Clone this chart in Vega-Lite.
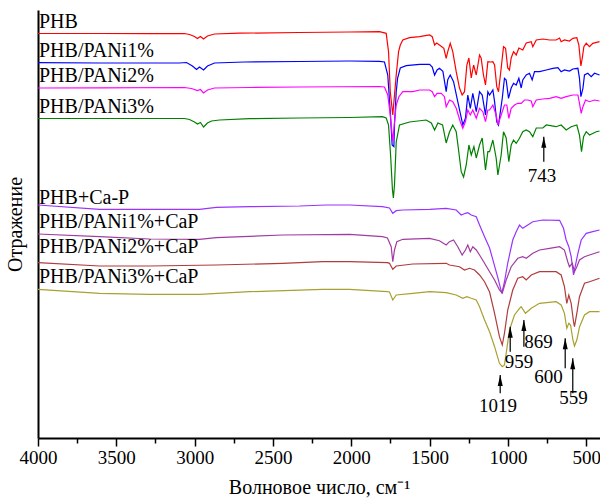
{
  "$schema": "https://vega.github.io/schema/vega-lite/v6.json",
  "width": 562,
  "height": 428,
  "autosize": {"type": "none"},
  "padding": {"left": 38, "top": 10, "right": 0, "bottom": 64},
  "background": "white",
  "config": {"view": {"stroke": null}, "font": "Liberation Serif"},
  "datasets": {
    "spectra": [
      {"s":"PHB","x":4000,"y":404.5},{"s":"PHB","x":3607,"y":404.5},{"s":"PHB","x":3288,"y":404.3},{"s":"PHB","x":3065,"y":404.5},{"s":"PHB","x":3033,"y":403.5},{"s":"PHB","x":3001,"y":401.5},{"s":"PHB","x":2982,"y":399.5},{"s":"PHB","x":2963,"y":401.5},{"s":"PHB","x":2943,"y":399},{"s":"PHB","x":2918,"y":402},{"s":"PHB","x":2873,"y":404},{"s":"PHB","x":2714,"y":404.8},{"s":"PHB","x":2330,"y":405.5},{"s":"PHB","x":2011,"y":406},{"s":"PHB","x":1820,"y":406.3},{"s":"PHB","x":1777,"y":404.7},{"s":"PHB","x":1762,"y":386.3},{"s":"PHB","x":1751,"y":346.3},{"s":"PHB","x":1735,"y":323},{"s":"PHB","x":1713,"y":363},{"s":"PHB","x":1698,"y":386.3},{"s":"PHB","x":1687,"y":393},{"s":"PHB","x":1671,"y":398},{"s":"PHB","x":1628,"y":400.3},{"s":"PHB","x":1564,"y":401.3},{"s":"PHB","x":1500,"y":403},{"s":"PHB","x":1483,"y":401.3},{"s":"PHB","x":1468,"y":393},{"s":"PHB","x":1455,"y":395},{"s":"PHB","x":1437,"y":393},{"s":"PHB","x":1409,"y":389.7},{"s":"PHB","x":1394,"y":379.7},{"s":"PHB","x":1384,"y":386.3},{"s":"PHB","x":1368,"y":394.7},{"s":"PHB","x":1352,"y":386.3},{"s":"PHB","x":1330,"y":366.3},{"s":"PHB","x":1309,"y":350},{"s":"PHB","x":1292,"y":343},{"s":"PHB","x":1277,"y":346.3},{"s":"PHB","x":1262,"y":373},{"s":"PHB","x":1249,"y":380},{"s":"PHB","x":1234,"y":360},{"s":"PHB","x":1219,"y":373},{"s":"PHB","x":1202,"y":363},{"s":"PHB","x":1181,"y":383},{"s":"PHB","x":1171,"y":380},{"s":"PHB","x":1156,"y":363},{"s":"PHB","x":1143,"y":353},{"s":"PHB","x":1128,"y":376.3},{"s":"PHB","x":1110,"y":376},{"s":"PHB","x":1096,"y":376.3},{"s":"PHB","x":1085,"y":373},{"s":"PHB","x":1071,"y":351.3},{"s":"PHB","x":1060,"y":346.3},{"s":"PHB","x":1043,"y":369.7},{"s":"PHB","x":1028,"y":391.3},{"s":"PHB","x":1015,"y":389.7},{"s":"PHB","x":1001,"y":370},{"s":"PHB","x":990,"y":368},{"s":"PHB","x":979,"y":380},{"s":"PHB","x":964,"y":386.3},{"s":"PHB","x":947,"y":383},{"s":"PHB","x":930,"y":390},{"s":"PHB","x":905,"y":388},{"s":"PHB","x":883,"y":395},{"s":"PHB","x":851,"y":396.3},{"s":"PHB","x":841,"y":391.3},{"s":"PHB","x":819,"y":398},{"s":"PHB","x":777,"y":399},{"s":"PHB","x":734,"y":398},{"s":"PHB","x":692,"y":398},{"s":"PHB","x":670,"y":400},{"s":"PHB","x":660,"y":396.3},{"s":"PHB","x":639,"y":398},{"s":"PHB","x":607,"y":397},{"s":"PHB","x":585,"y":399.7},{"s":"PHB","x":560,"y":400.3},{"s":"PHB","x":547,"y":393},{"s":"PHB","x":534,"y":372},{"s":"PHB","x":525,"y":380},{"s":"PHB","x":515,"y":391.3},{"s":"PHB","x":500,"y":394.7},{"s":"PHB","x":479,"y":391.3},{"s":"PHB","x":458,"y":394.7},{"s":"PHB","x":415,"y":396.3},

      {"s":"PHB/PANi1%","x":4000,"y":375.3},{"s":"PHB/PANi1%","x":3607,"y":375},{"s":"PHB/PANi1%","x":3288,"y":375},{"s":"PHB/PANi1%","x":3097,"y":375},{"s":"PHB/PANi1%","x":3052,"y":375.5},{"s":"PHB/PANi1%","x":3014,"y":372},{"s":"PHB/PANi1%","x":2988,"y":368.5},{"s":"PHB/PANi1%","x":2969,"y":371},{"s":"PHB/PANi1%","x":2943,"y":368},{"s":"PHB/PANi1%","x":2918,"y":372},{"s":"PHB/PANi1%","x":2873,"y":375},{"s":"PHB/PANi1%","x":2682,"y":376},{"s":"PHB/PANi1%","x":2330,"y":376.5},{"s":"PHB/PANi1%","x":2011,"y":377},{"s":"PHB/PANi1%","x":1820,"y":376.7},{"s":"PHB/PANi1%","x":1788,"y":376},{"s":"PHB/PANi1%","x":1767,"y":363},{"s":"PHB/PANi1%","x":1751,"y":326.3},{"s":"PHB/PANi1%","x":1739,"y":293},{"s":"PHB/PANi1%","x":1728,"y":291.3},{"s":"PHB/PANi1%","x":1724,"y":313},{"s":"PHB/PANi1%","x":1713,"y":346.3},{"s":"PHB/PANi1%","x":1704,"y":360},{"s":"PHB/PANi1%","x":1687,"y":370},{"s":"PHB/PANi1%","x":1649,"y":372.3},{"s":"PHB/PANi1%","x":1564,"y":373.7},{"s":"PHB/PANi1%","x":1500,"y":373.7},{"s":"PHB/PANi1%","x":1483,"y":371},{"s":"PHB/PANi1%","x":1468,"y":363},{"s":"PHB/PANi1%","x":1452,"y":368},{"s":"PHB/PANi1%","x":1437,"y":369.7},{"s":"PHB/PANi1%","x":1415,"y":366.7},{"s":"PHB/PANi1%","x":1394,"y":346.3},{"s":"PHB/PANi1%","x":1384,"y":358.3},{"s":"PHB/PANi1%","x":1368,"y":363},{"s":"PHB/PANi1%","x":1347,"y":356.3},{"s":"PHB/PANi1%","x":1320,"y":336.3},{"s":"PHB/PANi1%","x":1288,"y":313},{"s":"PHB/PANi1%","x":1271,"y":319.7},{"s":"PHB/PANi1%","x":1256,"y":343},{"s":"PHB/PANi1%","x":1240,"y":329.7},{"s":"PHB/PANi1%","x":1224,"y":344.7},{"s":"PHB/PANi1%","x":1202,"y":326.3},{"s":"PHB/PANi1%","x":1181,"y":346.3},{"s":"PHB/PANi1%","x":1164,"y":343},{"s":"PHB/PANi1%","x":1143,"y":323},{"s":"PHB/PANi1%","x":1128,"y":346.3},{"s":"PHB/PANi1%","x":1117,"y":343},{"s":"PHB/PANi1%","x":1096,"y":348},{"s":"PHB/PANi1%","x":1085,"y":336.3},{"s":"PHB/PANi1%","x":1071,"y":316.3},{"s":"PHB/PANi1%","x":1060,"y":313},{"s":"PHB/PANi1%","x":1036,"y":339.7},{"s":"PHB/PANi1%","x":1022,"y":359.7},{"s":"PHB/PANi1%","x":1011,"y":358},{"s":"PHB/PANi1%","x":996,"y":339.7},{"s":"PHB/PANi1%","x":979,"y":350},{"s":"PHB/PANi1%","x":964,"y":354.7},{"s":"PHB/PANi1%","x":947,"y":353},{"s":"PHB/PANi1%","x":930,"y":359.7},{"s":"PHB/PANi1%","x":915,"y":350},{"s":"PHB/PANi1%","x":905,"y":358},{"s":"PHB/PANi1%","x":883,"y":363},{"s":"PHB/PANi1%","x":862,"y":364.7},{"s":"PHB/PANi1%","x":845,"y":358},{"s":"PHB/PANi1%","x":830,"y":366.3},{"s":"PHB/PANi1%","x":798,"y":366.3},{"s":"PHB/PANi1%","x":755,"y":368},{"s":"PHB/PANi1%","x":713,"y":369.7},{"s":"PHB/PANi1%","x":681,"y":370.3},{"s":"PHB/PANi1%","x":660,"y":366.3},{"s":"PHB/PANi1%","x":639,"y":368},{"s":"PHB/PANi1%","x":607,"y":367},{"s":"PHB/PANi1%","x":585,"y":369},{"s":"PHB/PANi1%","x":553,"y":369.7},{"s":"PHB/PANi1%","x":543,"y":359.7},{"s":"PHB/PANi1%","x":534,"y":341.3},{"s":"PHB/PANi1%","x":521,"y":349.7},{"s":"PHB/PANi1%","x":511,"y":363},{"s":"PHB/PANi1%","x":490,"y":364.7},{"s":"PHB/PANi1%","x":468,"y":361.3},{"s":"PHB/PANi1%","x":447,"y":364.7},{"s":"PHB/PANi1%","x":415,"y":363},

      {"s":"PHB/PANi2%","x":4000,"y":350},{"s":"PHB/PANi2%","x":3607,"y":350.2},{"s":"PHB/PANi2%","x":3065,"y":350.5},{"s":"PHB/PANi2%","x":3020,"y":349.5},{"s":"PHB/PANi2%","x":2982,"y":347.5},{"s":"PHB/PANi2%","x":2963,"y":348.5},{"s":"PHB/PANi2%","x":2943,"y":345},{"s":"PHB/PANi2%","x":2918,"y":348},{"s":"PHB/PANi2%","x":2873,"y":350},{"s":"PHB/PANi2%","x":2650,"y":350.5},{"s":"PHB/PANi2%","x":2330,"y":351},{"s":"PHB/PANi2%","x":1820,"y":351.5},{"s":"PHB/PANi2%","x":1788,"y":351},{"s":"PHB/PANi2%","x":1767,"y":343},{"s":"PHB/PANi2%","x":1751,"y":323},{"s":"PHB/PANi2%","x":1735,"y":296.3},{"s":"PHB/PANi2%","x":1724,"y":316.3},{"s":"PHB/PANi2%","x":1713,"y":333},{"s":"PHB/PANi2%","x":1696,"y":341.3},{"s":"PHB/PANi2%","x":1671,"y":346.3},{"s":"PHB/PANi2%","x":1607,"y":346.3},{"s":"PHB/PANi2%","x":1564,"y":348},{"s":"PHB/PANi2%","x":1500,"y":348},{"s":"PHB/PANi2%","x":1483,"y":346.3},{"s":"PHB/PANi2%","x":1468,"y":341.3},{"s":"PHB/PANi2%","x":1452,"y":344.7},{"s":"PHB/PANi2%","x":1426,"y":344.7},{"s":"PHB/PANi2%","x":1405,"y":341.3},{"s":"PHB/PANi2%","x":1394,"y":331.3},{"s":"PHB/PANi2%","x":1373,"y":338},{"s":"PHB/PANi2%","x":1352,"y":336.3},{"s":"PHB/PANi2%","x":1330,"y":329.7},{"s":"PHB/PANi2%","x":1304,"y":316.3},{"s":"PHB/PANi2%","x":1288,"y":309.7},{"s":"PHB/PANi2%","x":1271,"y":316.3},{"s":"PHB/PANi2%","x":1256,"y":328},{"s":"PHB/PANi2%","x":1240,"y":323},{"s":"PHB/PANi2%","x":1224,"y":328},{"s":"PHB/PANi2%","x":1202,"y":319.7},{"s":"PHB/PANi2%","x":1181,"y":329.7},{"s":"PHB/PANi2%","x":1160,"y":326.3},{"s":"PHB/PANi2%","x":1143,"y":316.3},{"s":"PHB/PANi2%","x":1128,"y":328},{"s":"PHB/PANi2%","x":1117,"y":328},{"s":"PHB/PANi2%","x":1096,"y":333},{"s":"PHB/PANi2%","x":1075,"y":323},{"s":"PHB/PANi2%","x":1064,"y":313},{"s":"PHB/PANi2%","x":1043,"y":323},{"s":"PHB/PANi2%","x":1022,"y":333},{"s":"PHB/PANi2%","x":1007,"y":333},{"s":"PHB/PANi2%","x":994,"y":319.7},{"s":"PHB/PANi2%","x":979,"y":329.7},{"s":"PHB/PANi2%","x":958,"y":333},{"s":"PHB/PANi2%","x":937,"y":334.7},{"s":"PHB/PANi2%","x":915,"y":334.7},{"s":"PHB/PANi2%","x":894,"y":338},{"s":"PHB/PANi2%","x":873,"y":338},{"s":"PHB/PANi2%","x":851,"y":337},{"s":"PHB/PANi2%","x":841,"y":331.3},{"s":"PHB/PANi2%","x":819,"y":338},{"s":"PHB/PANi2%","x":777,"y":339},{"s":"PHB/PANi2%","x":734,"y":339.7},{"s":"PHB/PANi2%","x":692,"y":341.3},{"s":"PHB/PANi2%","x":660,"y":339.7},{"s":"PHB/PANi2%","x":628,"y":341.3},{"s":"PHB/PANi2%","x":585,"y":343},{"s":"PHB/PANi2%","x":553,"y":343},{"s":"PHB/PANi2%","x":543,"y":334.7},{"s":"PHB/PANi2%","x":532,"y":324.7},{"s":"PHB/PANi2%","x":521,"y":331.3},{"s":"PHB/PANi2%","x":504,"y":338},{"s":"PHB/PANi2%","x":479,"y":336.3},{"s":"PHB/PANi2%","x":447,"y":338},{"s":"PHB/PANi2%","x":415,"y":337},

      {"s":"PHB/PANi3%","x":4000,"y":319.5},{"s":"PHB/PANi3%","x":3607,"y":319.5},{"s":"PHB/PANi3%","x":3065,"y":319.5},{"s":"PHB/PANi3%","x":3033,"y":318.5},{"s":"PHB/PANi3%","x":3001,"y":316},{"s":"PHB/PANi3%","x":2982,"y":314},{"s":"PHB/PANi3%","x":2963,"y":315.5},{"s":"PHB/PANi3%","x":2943,"y":311},{"s":"PHB/PANi3%","x":2918,"y":315},{"s":"PHB/PANi3%","x":2892,"y":317},{"s":"PHB/PANi3%","x":2841,"y":318},{"s":"PHB/PANi3%","x":2650,"y":319.3},{"s":"PHB/PANi3%","x":2330,"y":320},{"s":"PHB/PANi3%","x":2011,"y":320.5},{"s":"PHB/PANi3%","x":1801,"y":321.3},{"s":"PHB/PANi3%","x":1777,"y":320},{"s":"PHB/PANi3%","x":1762,"y":313},{"s":"PHB/PANi3%","x":1749,"y":283},{"s":"PHB/PANi3%","x":1737,"y":248},{"s":"PHB/PANi3%","x":1731,"y":240},{"s":"PHB/PANi3%","x":1724,"y":253},{"s":"PHB/PANi3%","x":1713,"y":296},{"s":"PHB/PANi3%","x":1692,"y":313},{"s":"PHB/PANi3%","x":1628,"y":316},{"s":"PHB/PANi3%","x":1522,"y":318},{"s":"PHB/PANi3%","x":1489,"y":315},{"s":"PHB/PANi3%","x":1468,"y":308},{"s":"PHB/PANi3%","x":1447,"y":315},{"s":"PHB/PANi3%","x":1417,"y":313},{"s":"PHB/PANi3%","x":1394,"y":295},{"s":"PHB/PANi3%","x":1373,"y":306},{"s":"PHB/PANi3%","x":1352,"y":313},{"s":"PHB/PANi3%","x":1330,"y":306.3},{"s":"PHB/PANi3%","x":1315,"y":288},{"s":"PHB/PANi3%","x":1298,"y":266.3},{"s":"PHB/PANi3%","x":1283,"y":261},{"s":"PHB/PANi3%","x":1266,"y":273},{"s":"PHB/PANi3%","x":1249,"y":293},{"s":"PHB/PANi3%","x":1234,"y":283},{"s":"PHB/PANi3%","x":1217,"y":291.3},{"s":"PHB/PANi3%","x":1202,"y":280},{"s":"PHB/PANi3%","x":1181,"y":293},{"s":"PHB/PANi3%","x":1164,"y":300},{"s":"PHB/PANi3%","x":1143,"y":268},{"s":"PHB/PANi3%","x":1128,"y":286.3},{"s":"PHB/PANi3%","x":1117,"y":286.3},{"s":"PHB/PANi3%","x":1096,"y":298},{"s":"PHB/PANi3%","x":1075,"y":280},{"s":"PHB/PANi3%","x":1064,"y":263},{"s":"PHB/PANi3%","x":1043,"y":283},{"s":"PHB/PANi3%","x":1028,"y":306.3},{"s":"PHB/PANi3%","x":1011,"y":300},{"s":"PHB/PANi3%","x":994,"y":276.3},{"s":"PHB/PANi3%","x":979,"y":293},{"s":"PHB/PANi3%","x":964,"y":298},{"s":"PHB/PANi3%","x":947,"y":294.7},{"s":"PHB/PANi3%","x":926,"y":299.7},{"s":"PHB/PANi3%","x":905,"y":306.3},{"s":"PHB/PANi3%","x":883,"y":308},{"s":"PHB/PANi3%","x":862,"y":306.3},{"s":"PHB/PANi3%","x":841,"y":301.3},{"s":"PHB/PANi3%","x":819,"y":310},{"s":"PHB/PANi3%","x":777,"y":310},{"s":"PHB/PANi3%","x":755,"y":313},{"s":"PHB/PANi3%","x":692,"y":311.3},{"s":"PHB/PANi3%","x":660,"y":313},{"s":"PHB/PANi3%","x":628,"y":308},{"s":"PHB/PANi3%","x":596,"y":311.3},{"s":"PHB/PANi3%","x":560,"y":313},{"s":"PHB/PANi3%","x":543,"y":303},{"s":"PHB/PANi3%","x":530,"y":286.3},{"s":"PHB/PANi3%","x":517,"y":301.3},{"s":"PHB/PANi3%","x":500,"y":306.3},{"s":"PHB/PANi3%","x":479,"y":303},{"s":"PHB/PANi3%","x":436,"y":306.3},{"s":"PHB/PANi3%","x":415,"y":307},

      {"s":"PHB+Ca-P","x":4000,"y":233},{"s":"PHB+Ca-P","x":3607,"y":228.7},{"s":"PHB+Ca-P","x":3288,"y":228.7},{"s":"PHB+Ca-P","x":2969,"y":228.7},{"s":"PHB+Ca-P","x":2862,"y":230.7},{"s":"PHB+Ca-P","x":2650,"y":231.3},{"s":"PHB+Ca-P","x":2330,"y":232},{"s":"PHB+Ca-P","x":2160,"y":233},{"s":"PHB+Ca-P","x":2011,"y":233},{"s":"PHB+Ca-P","x":1801,"y":231.3},{"s":"PHB+Ca-P","x":1756,"y":230},{"s":"PHB+Ca-P","x":1735,"y":224.7},{"s":"PHB+Ca-P","x":1713,"y":227.3},{"s":"PHB+Ca-P","x":1671,"y":228},{"s":"PHB+Ca-P","x":1500,"y":228.7},{"s":"PHB+Ca-P","x":1394,"y":229.7},{"s":"PHB+Ca-P","x":1330,"y":228},{"s":"PHB+Ca-P","x":1298,"y":223},{"s":"PHB+Ca-P","x":1271,"y":224.7},{"s":"PHB+Ca-P","x":1256,"y":225.3},{"s":"PHB+Ca-P","x":1234,"y":223},{"s":"PHB+Ca-P","x":1202,"y":221.3},{"s":"PHB+Ca-P","x":1181,"y":213},{"s":"PHB+Ca-P","x":1149,"y":201.3},{"s":"PHB+Ca-P","x":1117,"y":190},{"s":"PHB+Ca-P","x":1066,"y":161.3},{"s":"PHB+Ca-P","x":1039,"y":144.7},{"s":"PHB+Ca-P","x":1022,"y":156},{"s":"PHB+Ca-P","x":1001,"y":175},{"s":"PHB+Ca-P","x":969,"y":198},{"s":"PHB+Ca-P","x":947,"y":206.3},{"s":"PHB+Ca-P","x":926,"y":213},{"s":"PHB+Ca-P","x":905,"y":209.7},{"s":"PHB+Ca-P","x":883,"y":212},{"s":"PHB+Ca-P","x":841,"y":216.3},{"s":"PHB+Ca-P","x":777,"y":218},{"s":"PHB+Ca-P","x":670,"y":217.7},{"s":"PHB+Ca-P","x":645,"y":209.7},{"s":"PHB+Ca-P","x":628,"y":198},{"s":"PHB+Ca-P","x":611,"y":191.3},{"s":"PHB+Ca-P","x":596,"y":181.3},{"s":"PHB+Ca-P","x":581,"y":163},{"s":"PHB+Ca-P","x":575,"y":168},{"s":"PHB+Ca-P","x":553,"y":184.7},{"s":"PHB+Ca-P","x":532,"y":198},{"s":"PHB+Ca-P","x":500,"y":204.7},{"s":"PHB+Ca-P","x":458,"y":206.3},{"s":"PHB+Ca-P","x":415,"y":208},

      {"s":"PHB/PANi1%+CaP","x":4000,"y":204},{"s":"PHB/PANi1%+CaP","x":3607,"y":201.3},{"s":"PHB/PANi1%+CaP","x":3288,"y":199},{"s":"PHB/PANi1%+CaP","x":2969,"y":198.7},{"s":"PHB/PANi1%+CaP","x":2862,"y":200.3},{"s":"PHB/PANi1%+CaP","x":2439,"y":203},{"s":"PHB/PANi1%+CaP","x":2011,"y":203.7},{"s":"PHB/PANi1%+CaP","x":1801,"y":201.3},{"s":"PHB/PANi1%+CaP","x":1769,"y":200},{"s":"PHB/PANi1%+CaP","x":1745,"y":191.3},{"s":"PHB/PANi1%+CaP","x":1735,"y":176.3},{"s":"PHB/PANi1%+CaP","x":1724,"y":188},{"s":"PHB/PANi1%+CaP","x":1709,"y":196.3},{"s":"PHB/PANi1%+CaP","x":1671,"y":198.7},{"s":"PHB/PANi1%+CaP","x":1500,"y":199.7},{"s":"PHB/PANi1%+CaP","x":1437,"y":197.3},{"s":"PHB/PANi1%+CaP","x":1394,"y":193},{"s":"PHB/PANi1%+CaP","x":1373,"y":196.3},{"s":"PHB/PANi1%+CaP","x":1347,"y":198},{"s":"PHB/PANi1%+CaP","x":1320,"y":191.3},{"s":"PHB/PANi1%+CaP","x":1292,"y":183},{"s":"PHB/PANi1%+CaP","x":1271,"y":188},{"s":"PHB/PANi1%+CaP","x":1256,"y":193},{"s":"PHB/PANi1%+CaP","x":1240,"y":186.3},{"s":"PHB/PANi1%+CaP","x":1224,"y":191.3},{"s":"PHB/PANi1%+CaP","x":1202,"y":188},{"s":"PHB/PANi1%+CaP","x":1181,"y":183},{"s":"PHB/PANi1%+CaP","x":1149,"y":174.7},{"s":"PHB/PANi1%+CaP","x":1117,"y":166.3},{"s":"PHB/PANi1%+CaP","x":1085,"y":158},{"s":"PHB/PANi1%+CaP","x":1054,"y":148},{"s":"PHB/PANi1%+CaP","x":1036,"y":145},{"s":"PHB/PANi1%+CaP","x":1011,"y":158},{"s":"PHB/PANi1%+CaP","x":979,"y":171.3},{"s":"PHB/PANi1%+CaP","x":937,"y":179.7},{"s":"PHB/PANi1%+CaP","x":905,"y":181.3},{"s":"PHB/PANi1%+CaP","x":883,"y":179.7},{"s":"PHB/PANi1%+CaP","x":841,"y":184.7},{"s":"PHB/PANi1%+CaP","x":798,"y":188},{"s":"PHB/PANi1%+CaP","x":734,"y":189.7},{"s":"PHB/PANi1%+CaP","x":670,"y":191.3},{"s":"PHB/PANi1%+CaP","x":639,"y":188},{"s":"PHB/PANi1%+CaP","x":618,"y":176.3},{"s":"PHB/PANi1%+CaP","x":607,"y":171.3},{"s":"PHB/PANi1%+CaP","x":589,"y":174.7},{"s":"PHB/PANi1%+CaP","x":575,"y":166.3},{"s":"PHB/PANi1%+CaP","x":560,"y":171.3},{"s":"PHB/PANi1%+CaP","x":543,"y":178},{"s":"PHB/PANi1%+CaP","x":511,"y":181.3},{"s":"PHB/PANi1%+CaP","x":479,"y":183},{"s":"PHB/PANi1%+CaP","x":415,"y":186.3},

      {"s":"PHB/PANi2%+CaP","x":4000,"y":175.3},{"s":"PHB/PANi2%+CaP","x":3607,"y":172},{"s":"PHB/PANi2%+CaP","x":3288,"y":172},{"s":"PHB/PANi2%+CaP","x":2862,"y":173},{"s":"PHB/PANi2%+CaP","x":2439,"y":174.7},{"s":"PHB/PANi2%+CaP","x":2184,"y":176.3},{"s":"PHB/PANi2%+CaP","x":2011,"y":176.3},{"s":"PHB/PANi2%+CaP","x":1769,"y":175.3},{"s":"PHB/PANi2%+CaP","x":1756,"y":174.7},{"s":"PHB/PANi2%+CaP","x":1735,"y":168.7},{"s":"PHB/PANi2%+CaP","x":1713,"y":172},{"s":"PHB/PANi2%+CaP","x":1607,"y":174},{"s":"PHB/PANi2%+CaP","x":1394,"y":174.7},{"s":"PHB/PANi2%+CaP","x":1373,"y":173},{"s":"PHB/PANi2%+CaP","x":1309,"y":171.3},{"s":"PHB/PANi2%+CaP","x":1277,"y":168},{"s":"PHB/PANi2%+CaP","x":1245,"y":169.7},{"s":"PHB/PANi2%+CaP","x":1213,"y":168},{"s":"PHB/PANi2%+CaP","x":1181,"y":163},{"s":"PHB/PANi2%+CaP","x":1149,"y":156.3},{"s":"PHB/PANi2%+CaP","x":1117,"y":146},{"s":"PHB/PANi2%+CaP","x":1085,"y":124.7},{"s":"PHB/PANi2%+CaP","x":1054,"y":101.3},{"s":"PHB/PANi2%+CaP","x":1036,"y":93},{"s":"PHB/PANi2%+CaP","x":1022,"y":104.7},{"s":"PHB/PANi2%+CaP","x":1001,"y":128},{"s":"PHB/PANi2%+CaP","x":969,"y":148},{"s":"PHB/PANi2%+CaP","x":937,"y":159.7},{"s":"PHB/PANi2%+CaP","x":905,"y":161.3},{"s":"PHB/PANi2%+CaP","x":883,"y":158},{"s":"PHB/PANi2%+CaP","x":851,"y":163},{"s":"PHB/PANi2%+CaP","x":798,"y":166.3},{"s":"PHB/PANi2%+CaP","x":692,"y":166.3},{"s":"PHB/PANi2%+CaP","x":660,"y":163},{"s":"PHB/PANi2%+CaP","x":639,"y":151.3},{"s":"PHB/PANi2%+CaP","x":624,"y":134.7},{"s":"PHB/PANi2%+CaP","x":611,"y":143},{"s":"PHB/PANi2%+CaP","x":596,"y":134.7},{"s":"PHB/PANi2%+CaP","x":581,"y":116.3},{"s":"PHB/PANi2%+CaP","x":575,"y":111.3},{"s":"PHB/PANi2%+CaP","x":560,"y":124.7},{"s":"PHB/PANi2%+CaP","x":543,"y":141.3},{"s":"PHB/PANi2%+CaP","x":511,"y":154.7},{"s":"PHB/PANi2%+CaP","x":479,"y":156.3},{"s":"PHB/PANi2%+CaP","x":447,"y":158},{"s":"PHB/PANi2%+CaP","x":415,"y":159.7},

      {"s":"PHB/PANi3%+CaP","x":4000,"y":148.7},{"s":"PHB/PANi3%+CaP","x":3607,"y":144.7},{"s":"PHB/PANi3%+CaP","x":3288,"y":143.7},{"s":"PHB/PANi3%+CaP","x":2969,"y":143.7},{"s":"PHB/PANi3%+CaP","x":2650,"y":146.3},{"s":"PHB/PANi3%+CaP","x":2184,"y":148.7},{"s":"PHB/PANi3%+CaP","x":2011,"y":148.7},{"s":"PHB/PANi3%+CaP","x":1769,"y":146.3},{"s":"PHB/PANi3%+CaP","x":1756,"y":146},{"s":"PHB/PANi3%+CaP","x":1735,"y":138},{"s":"PHB/PANi3%+CaP","x":1713,"y":143},{"s":"PHB/PANi3%+CaP","x":1607,"y":144.7},{"s":"PHB/PANi3%+CaP","x":1500,"y":146.3},{"s":"PHB/PANi3%+CaP","x":1394,"y":145.3},{"s":"PHB/PANi3%+CaP","x":1330,"y":143},{"s":"PHB/PANi3%+CaP","x":1288,"y":139.7},{"s":"PHB/PANi3%+CaP","x":1262,"y":141.3},{"s":"PHB/PANi3%+CaP","x":1234,"y":139.7},{"s":"PHB/PANi3%+CaP","x":1202,"y":138},{"s":"PHB/PANi3%+CaP","x":1181,"y":131.3},{"s":"PHB/PANi3%+CaP","x":1149,"y":118},{"s":"PHB/PANi3%+CaP","x":1117,"y":106.3},{"s":"PHB/PANi3%+CaP","x":1085,"y":91.3},{"s":"PHB/PANi3%+CaP","x":1054,"y":74.7},{"s":"PHB/PANi3%+CaP","x":1036,"y":71.3},{"s":"PHB/PANi3%+CaP","x":1022,"y":73},{"s":"PHB/PANi3%+CaP","x":1011,"y":84.7},{"s":"PHB/PANi3%+CaP","x":990,"y":108},{"s":"PHB/PANi3%+CaP","x":958,"y":123},{"s":"PHB/PANi3%+CaP","x":926,"y":129.7},{"s":"PHB/PANi3%+CaP","x":915,"y":131.3},{"s":"PHB/PANi3%+CaP","x":888,"y":124.7},{"s":"PHB/PANi3%+CaP","x":851,"y":129.7},{"s":"PHB/PANi3%+CaP","x":798,"y":134.7},{"s":"PHB/PANi3%+CaP","x":692,"y":136.3},{"s":"PHB/PANi3%+CaP","x":660,"y":133},{"s":"PHB/PANi3%+CaP","x":639,"y":124.7},{"s":"PHB/PANi3%+CaP","x":624,"y":109.7},{"s":"PHB/PANi3%+CaP","x":611,"y":114.7},{"s":"PHB/PANi3%+CaP","x":600,"y":113},{"s":"PHB/PANi3%+CaP","x":585,"y":98},{"s":"PHB/PANi3%+CaP","x":575,"y":92},{"s":"PHB/PANi3%+CaP","x":560,"y":98},{"s":"PHB/PANi3%+CaP","x":543,"y":111},{"s":"PHB/PANi3%+CaP","x":511,"y":123},{"s":"PHB/PANi3%+CaP","x":479,"y":126.3},{"s":"PHB/PANi3%+CaP","x":415,"y":126.3}
    ],
    "names": [
      {"t":"PHB","x":4000,"y":409.7},
      {"t":"PHB/PANi1%","x":4000,"y":380.7},
      {"t":"PHB/PANi2%","x":4000,"y":356.3},
      {"t":"PHB/PANi3%","x":4000,"y":325.3},
      {"t":"PHB+Ca-P","x":4000,"y":233.7},
      {"t":"PHB/PANi1%+CaP","x":4000,"y":210.3},
      {"t":"PHB/PANi2%+CaP","x":4000,"y":185.3},
      {"t":"PHB/PANi3%+CaP","x":4000,"y":154.7}
    ],
    "peaks": [
      {"t":"743","x":782,"y":256.3},
      {"t":"1019","x":1064,"y":26.3},
      {"t":"959","x":929,"y":69.7},
      {"t":"869","x":805,"y":89.7},
      {"t":"600","x":741,"y":54.7},
      {"t":"559","x":581,"y":34}
    ],
    "arrows": [
      {"x":771,"y":301.3,"base":276.3},
      {"x":1049,"y":63,"base":44.7},
      {"x":985,"y":111.3,"base":86.3},
      {"x":898,"y":118,"base":91.3},
      {"x":634,"y":99.7,"base":69.7},
      {"x":586,"y":79.7,"base":44.7}
    ]
  },
  "encoding": {
    "x": {"field": "x", "type": "quantitative",
      "scale": {"domain": [4000, 412], "nice": false, "zero": false},
      "axis": {
        "title": "Волновое число, см⁻¹",
        "titleFont": "Liberation Serif", "titleFontSize": 20, "titleFontWeight": "normal", "titleColor": "black", "titlePadding": 10,
        "values": [4000,3750,3500,3250,3000,2750,2500,2250,2000,1750,1500,1250,1000,750,500],
        "labelExpr": "datum.value % 500 === 0 ? datum.label : ''",
        "format": "d",
        "labelFont": "Liberation Serif", "labelFontSize": 19, "labelColor": "black", "labelPadding": 2,
        "labelFlush": false, "labelOverlap": false,
        "tickSize": {"condition": {"test": "datum.value % 500 === 0", "value": 8}, "value": 5},
        "tickColor": "black", "tickWidth": 1.5,
        "domainColor": "black", "domainWidth": 2, "grid": false
      }
    },
    "y": {"field": "y", "type": "quantitative",
      "scale": {"domain": [0, 428], "nice": false, "zero": false},
      "axis": {
        "title": "Отражение",
        "titleFont": "Liberation Serif", "titleFontSize": 20, "titleFontWeight": "normal", "titleColor": "black", "titlePadding": 13,
        "labels": false, "ticks": false, "grid": false, "minExtent": 0, "maxExtent": 0,
        "domainColor": "black", "domainWidth": 2
      }
    }
  },
  "layer": [
    {
      "data": {"name": "spectra"},
      "mark": {"type": "line", "strokeWidth": 1.2, "clip": true},
      "encoding": {
        "color": {"field": "s", "type": "nominal", "legend": null,
          "scale": {
            "domain": ["PHB","PHB/PANi1%","PHB/PANi2%","PHB/PANi3%","PHB+Ca-P","PHB/PANi1%+CaP","PHB/PANi2%+CaP","PHB/PANi3%+CaP"],
            "range": ["#ff0000","#0000ff","#ff00ff","#008000","#9933ff","#a03ca0","#b03c3c","#a8a030"]
          }
        }
      }
    },
    {
      "data": {"name": "arrows"},
      "mark": {"type": "rule", "color": "#222222", "strokeWidth": 1.4},
      "encoding": {
        "y2": {"field": "base"}
      }
    },
    {
      "data": {"name": "arrows"},
      "mark": {"type": "point", "shape": "M0,0L0.5,2.2L-0.5,2.2Z", "filled": true, "color": "black", "size": 100, "opacity": 1}
    },
    {
      "data": {"name": "names"},
      "mark": {"type": "text", "align": "left", "baseline": "alphabetic", "dx": 1, "font": "Liberation Serif", "fontSize": 20, "color": "black"},
      "encoding": {
        "text": {"field": "t"}
      }
    },
    {
      "data": {"name": "peaks"},
      "mark": {"type": "text", "align": "center", "baseline": "alphabetic", "font": "Liberation Serif", "fontSize": 19, "color": "black"},
      "encoding": {
        "text": {"field": "t"}
      }
    }
  ]
}
